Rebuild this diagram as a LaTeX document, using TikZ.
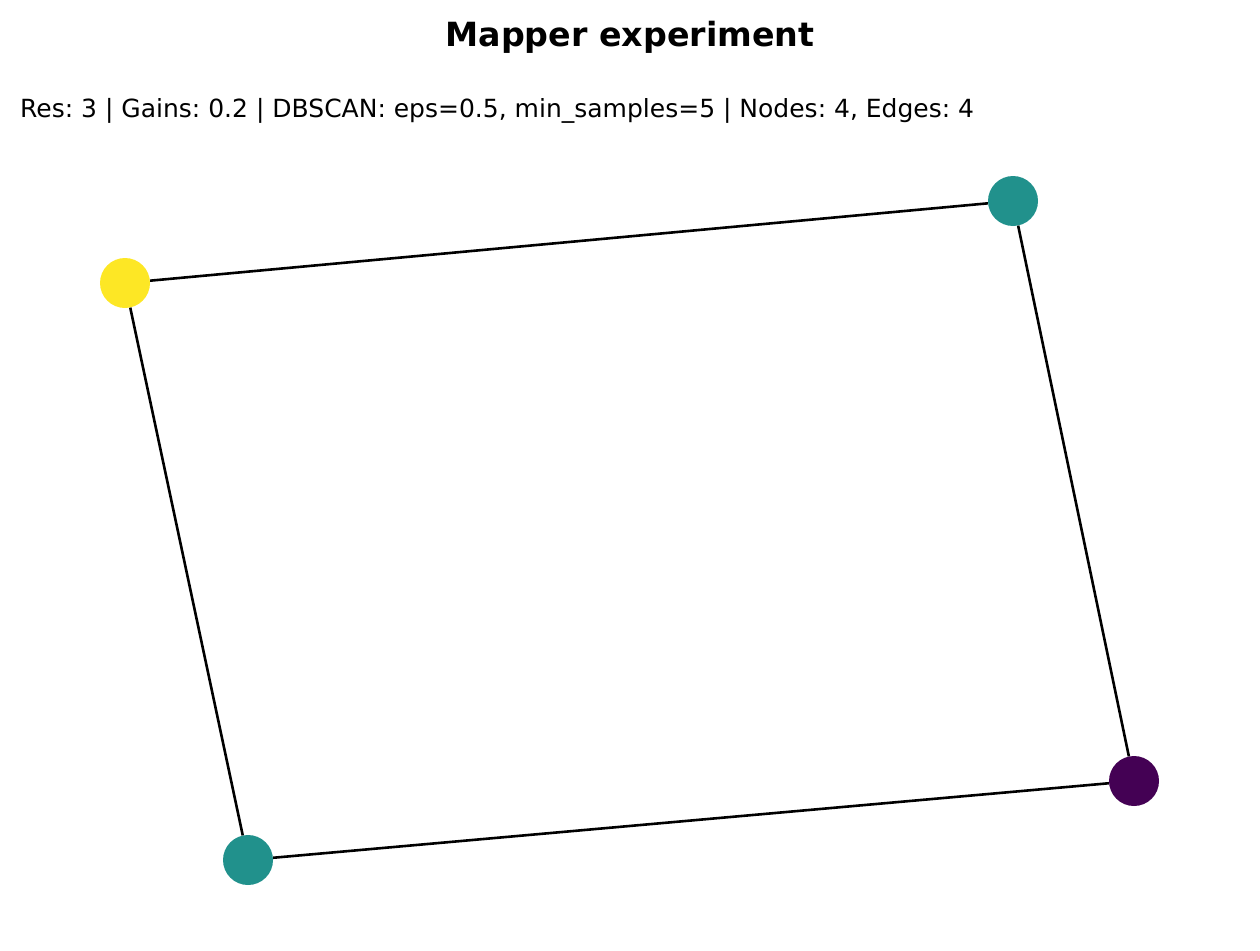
\documentclass[tikz,border=0pt]{standalone}
\usepackage{fontspec}
\setmainfont{DejaVu Sans}
\definecolor{vyellow}{HTML}{FDE725}
\definecolor{vteal}{HTML}{21918C}
\definecolor{vpurple}{HTML}{440154}
\begin{document}
\frenchspacing
\begin{tikzpicture}[x=1pt,y=-1pt,
  vtx/.style={circle,minimum size=50pt,inner sep=0pt,draw=none},
  edge/.style={black,line width=2.6pt}]
\useasboundingbox (0,0) rectangle (1260,950);
\node[font=\fontsize{33.3}{40}\selectfont\bfseries] (title) at (630,37) {Mapper experiment};
\node[anchor=west,font=\fontsize{25}{30}\selectfont,inner sep=0pt] (sub) at (20,111) {Res: 3 | Gains: 0.2 | DBSCAN: eps=0.5, min\_samples=5 | Nodes: 4, Edges: 4};
\node[vtx,fill=vyellow] (a) at (125,283) {};
\node[vtx,fill=vteal] (b) at (1013,201) {};
\node[vtx,fill=vpurple] (c) at (1134,781) {};
\node[vtx,fill=vteal] (d) at (248,860) {};
\draw[edge] (a) -- (b);
\draw[edge] (b) -- (c);
\draw[edge] (c) -- (d);
\draw[edge] (d) -- (a);
\end{tikzpicture}
\end{document}
